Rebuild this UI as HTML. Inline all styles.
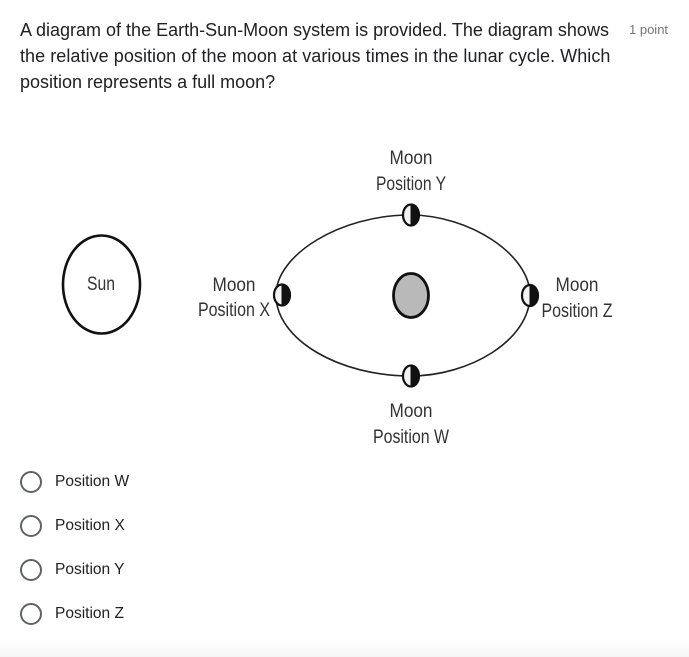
<!DOCTYPE html>
<html>
<head>
<meta charset="utf-8">
<style>
html,body{margin:0;padding:0;background:#fff;}
body{width:689px;height:657px;overflow:hidden;position:relative;font-family:"Liberation Sans",sans-serif;}
.t{position:absolute;white-space:nowrap;}
.q{left:20px;font-size:18px;color:#202124;line-height:26px;}
.o{left:55px;font-size:15.5px;color:#202124;line-height:20px;}
.r{position:absolute;left:20px;width:18px;height:18px;border:2px solid #5f6368;border-radius:50%;}
.f{position:absolute;left:0;top:642px;width:689px;height:15px;background:linear-gradient(#fff,#f5f5f5);}
svg{position:absolute;left:0;top:0;filter:blur(.35px);}
svg text{font-family:"Liberation Sans",sans-serif;fill:#333;font-size:19px;text-anchor:middle;}
</style>
</head>
<body>
<div class="t q" style="top:17px">A diagram of the Earth-Sun-Moon system is provided. The diagram shows</div>
<div class="t q" style="top:43px;letter-spacing:.055px">the relative position of the moon at various times in the lunar cycle. Which</div>
<div class="t q" style="top:69px">position represents a full moon?</div>
<div class="t" style="left:629px;top:22px;font-size:13px;color:#70757a;line-height:16px">1 point</div>

<svg width="689" height="657" viewBox="0 0 689 657">
  <ellipse cx="101.500" cy="284.500" rx="38.500" ry="49" fill="#fff" stroke="#111" stroke-width="2.600"/>
  <text x="101" y="290" textLength="28" lengthAdjust="spacingAndGlyphs">Sun</text>

  <path d="M410 215C340 215 276 255 276 295C276 340 340 376 410 376C470 376 530 340 530 295C530 255 470 215 410 215Z" fill="none" stroke="#222" stroke-width="1.600"/>
  <ellipse cx="411" cy="295.500" rx="17.500" ry="22" fill="#b9b9b9" stroke="#111" stroke-width="2.800"/>

  <g>
    <ellipse cx="411" cy="215" rx="8" ry="10.500" fill="#f2f2f2" stroke="#111" stroke-width="2.200"/>
    <path d="M411 204.500A8 10.500 0 0 1 411 225.500Z" fill="#111" stroke="#111"/>
  </g>
  <g>
    <ellipse cx="411" cy="376" rx="8" ry="10.500" fill="#f2f2f2" stroke="#111" stroke-width="2.200"/>
    <path d="M411 365.500A8 10.500 0 0 1 411 386.500Z" fill="#111" stroke="#111"/>
  </g>
  <g>
    <ellipse cx="282" cy="295" rx="8" ry="10.500" fill="#f2f2f2" stroke="#111" stroke-width="2.200"/>
    <path d="M282 284.500A8 10.500 0 0 1 282 305.500Z" fill="#111" stroke="#111"/>
  </g>
  <g>
    <ellipse cx="530" cy="295.500" rx="8" ry="10.500" fill="#f2f2f2" stroke="#111" stroke-width="2.200"/>
    <path d="M530 285A8 10.500 0 0 1 530 306Z" fill="#111" stroke="#111"/>
  </g>

  <text x="411" y="164" textLength="43" lengthAdjust="spacingAndGlyphs">Moon</text>
  <text x="411" y="190" textLength="70" lengthAdjust="spacingAndGlyphs">Position Y</text>
  <text x="234" y="291" textLength="43" lengthAdjust="spacingAndGlyphs">Moon</text>
  <text x="234" y="316" textLength="72" lengthAdjust="spacingAndGlyphs">Position X</text>
  <text x="577" y="291" textLength="43" lengthAdjust="spacingAndGlyphs">Moon</text>
  <text x="577" y="317" textLength="71" lengthAdjust="spacingAndGlyphs">Position Z</text>
  <text x="411" y="417" textLength="43" lengthAdjust="spacingAndGlyphs">Moon</text>
  <text x="411" y="443" textLength="76" lengthAdjust="spacingAndGlyphs">Position W</text>
</svg>

<div class="r" style="top:471px"></div>
<div class="t o" style="top:472px">Position W</div>
<div class="r" style="top:515px"></div>
<div class="t o" style="top:516px">Position X</div>
<div class="r" style="top:559px"></div>
<div class="t o" style="top:560px">Position Y</div>
<div class="r" style="top:603px"></div>
<div class="t o" style="top:604px">Position Z</div>
<div class="f"></div>
</body>
</html>
